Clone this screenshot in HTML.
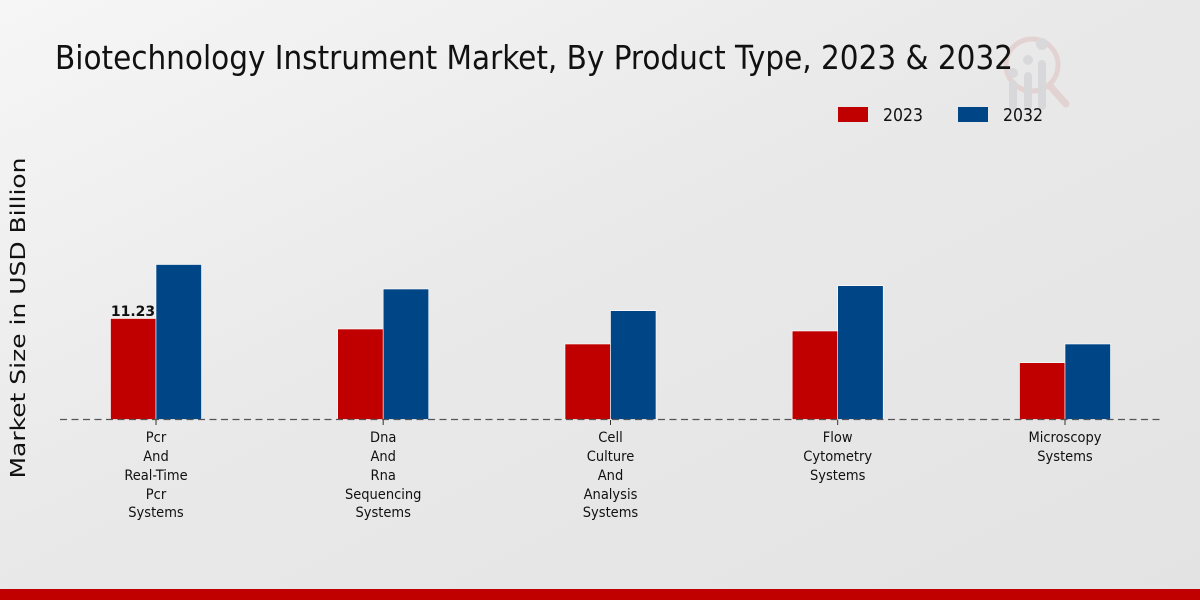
<!DOCTYPE html>
<html><head><meta charset="utf-8"><style>
html,body{margin:0;padding:0;width:1200px;height:600px;overflow:hidden}
svg{display:block}
</style></head><body>
<svg width="1200" height="600" viewBox="0 0 1200 600" xmlns="http://www.w3.org/2000/svg">
<defs>
<linearGradient id="bg" x1="0" y1="0" x2="1" y2="1">
<stop offset="0" stop-color="#f6f6f6"/>
<stop offset="0.45" stop-color="#e9e9e9"/>
<stop offset="1" stop-color="#e3e3e3"/>
</linearGradient>
</defs>
<rect width="1200" height="600" fill="url(#bg)"/>
<rect x="0" y="589" width="1200" height="11" fill="#c00000"/>
<!-- watermark logo -->
<g opacity="0.6">
<circle cx="1032" cy="65" r="26" fill="none" stroke="#e0c4c4" stroke-width="5"/>
<line x1="1050" y1="86" x2="1066" y2="104" stroke="#e0c4c4" stroke-width="7" stroke-linecap="round"/>
<rect x="1009" y="80" width="8" height="30" rx="4" fill="#cfcfd3"/>
<rect x="1024" y="72" width="8" height="38" rx="4" fill="#cfcfd3"/>
<rect x="1038" y="60" width="8" height="50" rx="4" fill="#cfcfd3"/>
<circle cx="1013" cy="73" r="5" fill="#cfcfd3"/>
<circle cx="1028" cy="60" r="5" fill="#cfcfd3"/>
<circle cx="1042" cy="44" r="6" fill="#cfcfd3"/>
</g>
<!-- title -->
<text x="55" y="69" font-family="'DejaVu Sans Condensed','DejaVu Sans',sans-serif" font-stretch="condensed" font-size="33" fill="#111" textLength="958" lengthAdjust="spacingAndGlyphs">Biotechnology Instrument Market, By Product Type, 2023 &amp; 2032</text>
<!-- legend -->
<rect x="838" y="107" width="30" height="15" fill="#c00000"/>
<text x="883" y="121" font-family="'DejaVu Sans Condensed','DejaVu Sans',sans-serif" font-size="18" fill="#111" textLength="40" lengthAdjust="spacingAndGlyphs">2023</text>
<rect x="958" y="107" width="30" height="15" fill="#004586"/>
<text x="1003" y="121" font-family="'DejaVu Sans Condensed','DejaVu Sans',sans-serif" font-size="18" fill="#111" textLength="40" lengthAdjust="spacingAndGlyphs">2032</text>
<!-- y axis label -->
<text transform="translate(25,318) rotate(-90)" text-anchor="middle" font-family="'DejaVu Sans',sans-serif" font-size="20" fill="#111" textLength="321" lengthAdjust="spacingAndGlyphs">Market Size in USD Billion</text>
<!-- bars -->
<g stroke="#ffffff" stroke-width="0.6">
<rect x="110.5" y="318.5" width="45.5" height="101" fill="#c00000"/>
<rect x="156" y="264.5" width="45.5" height="155" fill="#004586"/>
<rect x="337.7" y="329" width="45.5" height="90.5" fill="#c00000"/>
<rect x="383.2" y="289" width="45.5" height="130.5" fill="#004586"/>
<rect x="565" y="344" width="45.5" height="75.5" fill="#c00000"/>
<rect x="610.5" y="310.7" width="45.5" height="108.8" fill="#004586"/>
<rect x="792.2" y="331" width="45.5" height="88.5" fill="#c00000"/>
<rect x="837.7" y="285.7" width="45.5" height="133.8" fill="#004586"/>
<rect x="1019.5" y="362.7" width="45.5" height="56.8" fill="#c00000"/>
<rect x="1065" y="344" width="45.5" height="75.5" fill="#004586"/>
</g>
<!-- baseline -->
<line x1="60" y1="419.5" x2="1160" y2="419.5" stroke="#555" stroke-width="1.3" stroke-dasharray="7,4.5"/>
<g stroke="#333" stroke-width="1">
<line x1="156" y1="420" x2="156" y2="425"/>
<line x1="383.2" y1="420" x2="383.2" y2="425"/>
<line x1="610.5" y1="420" x2="610.5" y2="425"/>
<line x1="837.7" y1="420" x2="837.7" y2="425"/>
<line x1="1065" y1="420" x2="1065" y2="425"/>
</g>
<!-- value label -->
<text x="133" y="316" text-anchor="middle" font-family="'DejaVu Sans',sans-serif" font-weight="bold" font-size="14" fill="#111">11.23</text>
<!-- category labels -->
<g font-family="'DejaVu Sans Condensed','DejaVu Sans',sans-serif" font-stretch="condensed" font-size="14.5" fill="#111" text-anchor="middle">
<text x="156" y="442">Pcr</text>
<text x="156" y="461">And</text>
<text x="156" y="480">Real-Time</text>
<text x="156" y="499">Pcr</text>
<text x="156" y="517">Systems</text>
<text x="383.2" y="442">Dna</text>
<text x="383.2" y="461">And</text>
<text x="383.2" y="480">Rna</text>
<text x="383.2" y="499">Sequencing</text>
<text x="383.2" y="517">Systems</text>
<text x="610.5" y="442">Cell</text>
<text x="610.5" y="461">Culture</text>
<text x="610.5" y="480">And</text>
<text x="610.5" y="499">Analysis</text>
<text x="610.5" y="517">Systems</text>
<text x="837.7" y="442">Flow</text>
<text x="837.7" y="461">Cytometry</text>
<text x="837.7" y="480">Systems</text>
<text x="1065" y="442">Microscopy</text>
<text x="1065" y="461">Systems</text>
</g>
</svg>
</body></html>
